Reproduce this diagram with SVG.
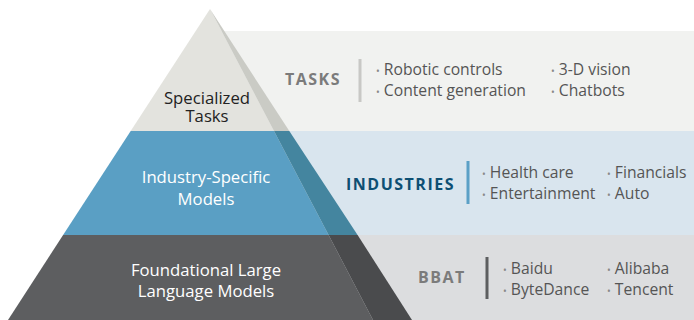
<svg xmlns="http://www.w3.org/2000/svg" width="694" height="320" viewBox="0 0 694 320">
<style>
text{font-family:"Open Sans","Liberation Sans",sans-serif}
.lvl{font-size:16.7px;text-anchor:middle}
.hd{font-size:16px;font-weight:bold;letter-spacing:1.5px}
.it{font-size:15.7px;fill:#555}
.b{font-size:10px;fill:#888}
</style>
<rect width="694" height="320" fill="#fff"/>
<g id="panels">
<rect x="210" y="31" width="484" height="100" fill="#f1f2f0"/>
<rect x="210" y="131" width="484" height="104" fill="#d9e5ee"/>
<rect x="210" y="235" width="484" height="85" fill="#dcdddf"/>
</g>
<g id="tier-top">
<polygon points="210,9 130.7,131 274,131" fill="#e3e3de"/>
<polygon points="210,9 274,131 289.3,131" fill="#cacbc5"/>
<text class="lvl" fill="#222"><tspan x="207" y="104">Specialized</tspan><tspan x="207" y="122">Tasks</tspan></text>
</g>
<g id="tier-mid">
<polygon points="130.7,131 63.1,235 328.6,235 274,131" fill="#5a9fc4"/>
<polygon points="274,131 328.6,235 357.6,235 289.3,131" fill="#44859f"/>
<text class="lvl" fill="#fff"><tspan x="206" y="183">Industry-Specific</tspan><tspan x="206" y="205">Models</tspan></text>
</g>
<g id="tier-bottom">
<polygon points="63.1,235 8,320 373,320 328.6,235" fill="#5d5e60"/>
<polygon points="328.6,235 373,320 412,320 357.6,235" fill="#4a4b4d"/>
<text class="lvl" fill="#fff"><tspan x="206" y="276">Foundational Large</tspan><tspan x="206" y="297">Language Models</tspan></text>
</g>
<g id="tasks">
<text class="hd" x="285" y="85" fill="#7b7b7b">TASKS</text>
<rect x="358.5" y="59" width="3" height="43" fill="#c8c8c5"/>
<text class="it" x="376" y="75"><tspan class="b">•</tspan> Robotic controls</text>
<text class="it" x="376" y="96"><tspan class="b">•</tspan> Content generation</text>
<text class="it" x="551" y="75"><tspan class="b">•</tspan> 3-D vision</text>
<text class="it" x="551" y="96"><tspan class="b">•</tspan> Chatbots</text>
</g>
<g id="industries">
<text class="hd" x="346" y="190" fill="#0d4f73">INDUSTRIES</text>
<rect x="466.5" y="161" width="3" height="43" fill="#5ba0c6"/>
<text class="it" x="482" y="178"><tspan class="b">•</tspan> Health care</text>
<text class="it" x="482" y="199"><tspan class="b">•</tspan> Entertainment</text>
<text class="it" x="607" y="178"><tspan class="b">•</tspan> Financials</text>
<text class="it" x="607" y="199"><tspan class="b">•</tspan> Auto</text>
</g>
<g id="bbat">
<text class="hd" x="418" y="283" fill="#7b7b7b">BBAT</text>
<rect x="485.5" y="257" width="3" height="42" fill="#5d5e60"/>
<text class="it" x="503" y="274"><tspan class="b">•</tspan> Baidu</text>
<text class="it" x="503" y="295"><tspan class="b">•</tspan> ByteDance</text>
<text class="it" x="607" y="274"><tspan class="b">•</tspan> Alibaba</text>
<text class="it" x="607" y="295"><tspan class="b">•</tspan> Tencent</text>
</g>
</svg>
